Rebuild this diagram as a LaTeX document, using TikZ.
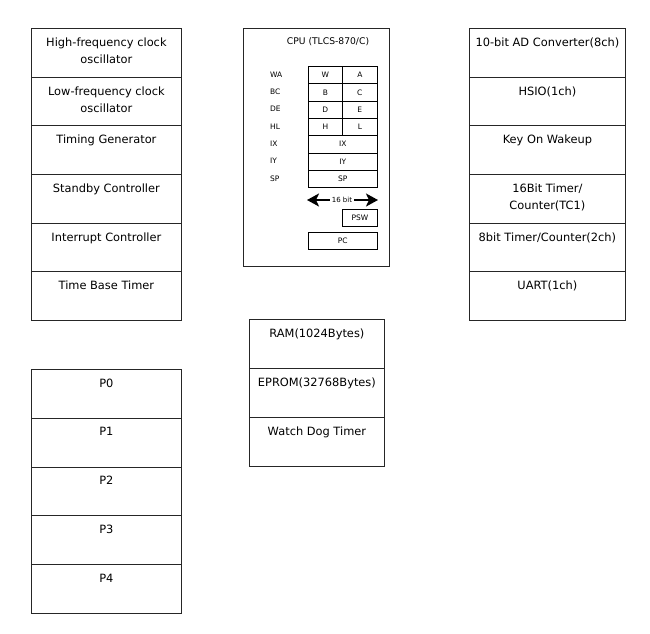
\documentclass[tikz,border=0pt]{standalone}
\usepackage{fontspec}
\setmainfont{DejaVu Sans}
\usetikzlibrary{arrows.meta}
\tikzset{
  cell/.style={draw=black!85, line width=0.8pt, rectangle, anchor=north west, inner sep=0pt},
  lbl/.style={anchor=north, align=center, inner sep=0pt, yshift=-9.5pt, font=\fontsize{11.4}{17}\selectfont},
  reg/.style={draw=black, line width=0.7pt, rectangle, anchor=north west, inner sep=0pt},
  regtxt/.style={inner sep=0pt, font=\fontsize{7.5}{8}\selectfont},
  bitarrow/.style={line width=2pt, -{Stealth[length=12pt,width=13pt,inset=3pt]}},
}
\begin{document}
\begin{tikzpicture}[x=1pt,y=-1pt]
\useasboundingbox (0,0) rectangle (650,633);
% ---------- left column ----------
\foreach \n/\y/\t in {a1/28/{High-frequency clock\\oscillator},a2/76.7/{Low-frequency clock\\oscillator},a3/125.3/Timing Generator,a4/174/Standby Controller,a5/222.7/Interrupt Controller,a6/271.3/Time Base Timer}{
  \node[cell, minimum width=150pt, minimum height=48.7pt] (\n) at (31,\y) {};
  \node[lbl] (\n t) at (\n.north) {\t};
}
% ---------- right column ----------
\foreach \n/\y/\t in {b1/28/10-bit AD Converter(8ch),b2/76.7/HSIO(1ch),b3/125.3/Key On Wakeup,b4/174/{16Bit Timer/\\Counter(TC1)},b5/222.7/{8bit Timer/Counter(2ch)},b6/271.3/UART(1ch)}{
  \node[cell, minimum width=156pt, minimum height=48.7pt] (\n) at (469,\y) {};
  \node[lbl] (\n t) at (\n.north) {\t};
}
% ---------- memory column ----------
\foreach \n/\y/\t in {m1/319/RAM(1024Bytes),m2/368/EPROM(32768Bytes),m3/417/Watch Dog Timer}{
  \node[cell, minimum width=135pt, minimum height=49pt] (\n) at (249,\y) {};
  \node[lbl] (\n t) at (\n.north) {\t};
}
% ---------- ports ----------
\foreach \n/\y/\t in {p0/369/P0,p1/417.8/P1,p2/466.6/P2,p3/515.4/P3,p4/564.2/P4}{
  \node[cell, minimum width=150pt, minimum height=48.8pt] (\n) at (31,\y) {};
  \node[lbl] (\n t) at (\n.north) {\t};
}
% ---------- CPU ----------
\node[cell, minimum width=146pt, minimum height=238pt] (cpu) at (243,28) {};
\node[inner sep=0pt, font=\fontsize{9.2}{10}\selectfont] (cputitle) at (328,42) {CPU (TLCS-870/C)};
% split registers
\foreach \n/\y/\l/\r in {wa/66/W/A,bc/83.3/B/C,de/100.6/D/E,hl/117.9/H/L}{
  \node[reg, minimum width=34pt, minimum height=17.3pt] (\n l) at (308,\y) {};
  \node[reg, minimum width=35pt, minimum height=17.3pt] (\n r) at (342,\y) {};
  \node[regtxt] (\n lt) at (\n l.center) {\l};
  \node[regtxt] (\n rt) at (\n r.center) {\r};
}
% full registers
\foreach \n/\y/\t in {ix/135.2/IX,iy/152.5/IY,sp/169.8/SP}{
  \node[reg, minimum width=69pt, minimum height=17.3pt] (\n) at (308,\y) {};
  \node[regtxt] (\n t) at (\n.center) {\t};
}
% register names
\foreach \n/\y/\t in {wa/74.6/WA,bc/91.9/BC,de/109.2/DE,hl/126.5/HL,ix/143.8/IX,iy/161.1/IY,sp/178.4/SP}{
  \node[regtxt, anchor=west] (\n name) at (270,\y) {\t};
}
% 16 bit
\node[inner sep=2pt, font=\fontsize{7}{8}\selectfont] (bits) at (342,200) {16 bit};
\coordinate (bitl) at (307,200);
\coordinate (bitr) at (378,200);
\draw[bitarrow] (bits.west) -- (bitl);
\draw[bitarrow] (bits.east) -- (bitr);
% PSW, PC
\node[reg, minimum width=35pt, minimum height=17pt] (psw) at (342,209) {};
\node[regtxt] (pswt) at (psw.center) {PSW};
\node[reg, minimum width=69pt, minimum height=17pt] (pc) at (308,232) {};
\node[regtxt] (pct) at (pc.center) {PC};
\end{tikzpicture}
\end{document}
